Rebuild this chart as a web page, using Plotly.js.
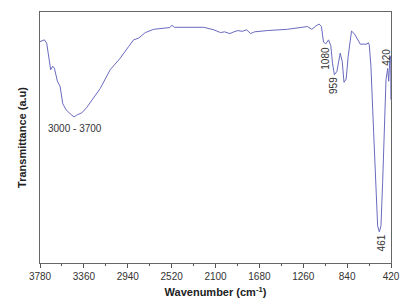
<!DOCTYPE html>
<html><head><meta charset="utf-8">
<script src="https://cdn.plot.ly/plotly-3.0.1.min.js"></script>
<style>html,body{margin:0;padding:0;background:#fff}#c{width:403px;height:308px}</style>
</head><body><div id="c"></div>
<script>
const wavenumber = [3780,3738,3716,3694,3678,3658,3642,3614,3588,3562,3530,3492,3454,3422,3380,3332,3268,3204,3108,3012,2932,2884,2836,2772,2692,2596,2538,2516,2494,2372,2212,2116,2052,2014,1962,1924,1886,1844,1802,1764,1726,1604,1412,1220,1178,1140,1108,1086,1066,1044,1018,996,980,962,938,906,887,870,849,830,798,772,740,714,650,638,628,612,586,564,548,532,516,500,484,468,452,442,430,422,421];
const transmittance = [88.2,88.9,87.6,81.0,77.0,78.4,77.6,72.5,70.4,63.5,61.0,59.5,58.2,59.1,59.8,62.0,66.0,69.5,77.0,81.6,86.2,88.9,89.6,91.8,93.1,93.7,93.8,94.7,93.9,93.9,93.9,92.9,91.8,92.1,91.4,92.1,92.6,92.3,92.9,91.4,92.1,92.6,93.1,94.2,93.1,94.4,95.2,94.2,88.0,87.3,88.9,86.5,79.6,75.0,76.3,83.6,80.3,72.0,73.3,82.3,92.4,91.4,89.2,87.2,87.2,87.8,86.9,78.3,51.9,28.0,14.8,12.4,14.8,32.0,54.5,73.0,77.5,72.4,82.0,82.3,65.1];
const peakLabels = ["3000 - 3700","1080","959","461","420"];
const peakX = [3444,1044,964,516,462];
const peakY = [53.6,81.7,70.6,8.2,82];
const peakAngle = [0,-90,-90,-90,-90];
const xTicks = [3780,3360,2940,2520,2100,1680,1260,840,420];

const annotations = peakLabels.map((t,i)=>({x:peakX[i],y:peakY[i],text:t,showarrow:false,textangle:peakAngle[i],
  font:{family:'Liberation Sans, Arial, sans-serif',size:10,color:'#333'},xanchor:'center',yanchor:'middle'}));

Plotly.newPlot('c',[{x:wavenumber,y:transmittance,type:'scatter',mode:'lines',
  line:{color:'#6a6abf',width:1},hoverinfo:'skip'}],{
  width:403,height:308,margin:{l:40,r:12,t:12,b:45},
  paper_bgcolor:'#fff',plot_bgcolor:'#fff',showlegend:false,
  xaxis:{range:[3780,420],tickvals:xTicks,ticktext:xTicks.map(String),ticks:'outside',ticklen:4,tickcolor:'#555',
    minor:{dtick:210,tick0:420,ticks:'outside',ticklen:2,tickcolor:'#555'},
    showgrid:false,zeroline:false,showline:true,linecolor:'#666',linewidth:1,mirror:true,
    tickfont:{family:'Liberation Sans, Arial, sans-serif',size:10,color:'#333'},
    title:{text:'<b>Wavenumber (cm<sup>-1</sup>)</b>',standoff:7,font:{family:'Liberation Sans, Arial, sans-serif',size:11,color:'#222'}}},
  yaxis:{range:[0,100],showticklabels:false,ticks:'',showgrid:false,zeroline:false,showline:true,linecolor:'#666',linewidth:1,mirror:true,
    title:{text:'<b>Transmittance (a.u)</b>',standoff:10,font:{family:'Liberation Sans, Arial, sans-serif',size:11,color:'#222'}}},
  annotations:annotations
},{staticPlot:true,displayModeBar:false});
</script></body></html>
